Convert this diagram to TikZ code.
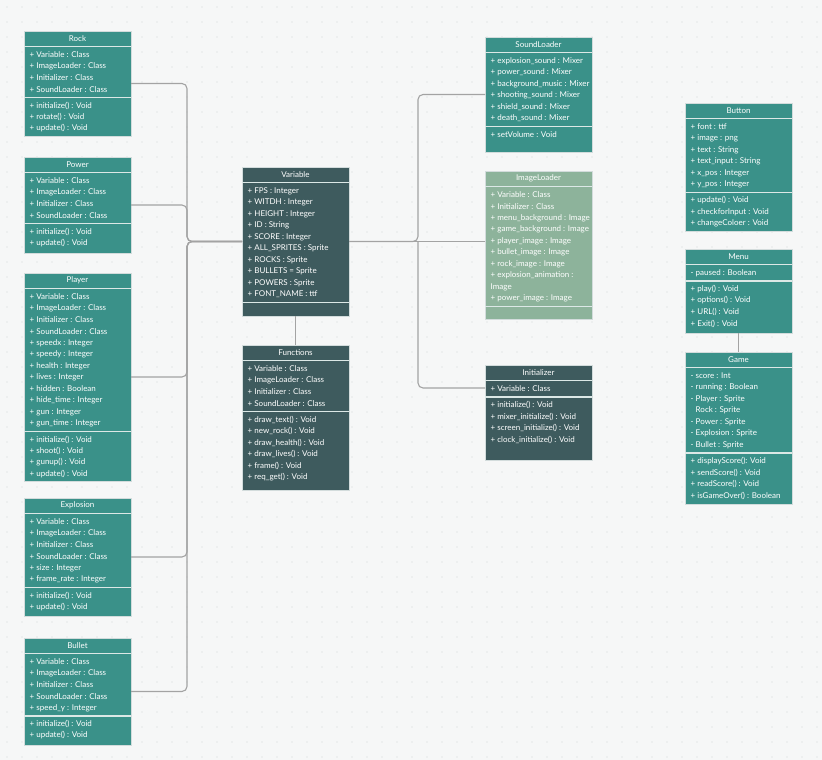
\documentclass[tikz,border=0pt]{standalone}
\usepackage{fontspec}
\setmainfont{Lato}
\usetikzlibrary{calc}

\definecolor{umlteal}{HTML}{3A9189}
\definecolor{umlslate}{HTML}{3E5B5E}
\definecolor{umlsage}{HTML}{8DB39B}
\definecolor{boxedge}{HTML}{D3DCDC}
\definecolor{sepcol}{HTML}{DCE8E6}
\definecolor{conncol}{HTML}{A3A3A3}
\definecolor{paper}{HTML}{F6F7F7}
\definecolor{dotcol}{HTML}{D3D7D7}

\tikzset{
  classbox/.style={draw=boxedge, line width=0.6pt, minimum width=107pt,
    anchor=north west, inner sep=0pt, outer sep=0pt},
  tealbox/.style={classbox, fill=umlteal},
  slatebox/.style={classbox, fill=umlslate},
  sagebox/.style={classbox, fill=umlsage},
  rowtext/.style={anchor=west, inner sep=0pt, text=white,
    font=\fontsize{8}{9}\selectfont},
  titletext/.style={anchor=center, inner sep=0pt, text=white,
    font=\fontsize{8}{9}\selectfont},
  sepline/.style={draw=sepcol, line width=1.1pt},
  conn/.style={draw=conncol, line width=1.1pt, rounded corners=5pt},
}

% #1 name, #2 style, #3 left x, #4 top y, #5 bottom y, #6 title,
% #7 number of attributes, #8 attributes, #9 operations
\newcommand\umlclass[9]{%
  \node[#2, minimum height=#5pt-#4pt] (#1) at (#3,#4) {};
  \node[titletext] (#1-t) at ($(#1.north)+(0,7.5)$) {#6};
  \draw[sepline] ($(#1.north west)+(0,15.5)$) -- ($(#1.north east)+(0,15.5)$);
  \foreach \lbl [count=\i] in {#8}
    \node[rowtext] (#1-a\i) at ({#3+5.5},{#4+24+(\i-1)*11.5}) {\lbl};
  \draw[sepline] ($(#1.north west)+(0,{20.5+#7*11.5})$) --
                 ($(#1.north east)+(0,{20.5+#7*11.5})$);
  \foreach \lbl [count=\i] in {#9}
    \node[rowtext] (#1-m\i) at ({#3+5.5},{#4+28.5+#7*11.5+(\i-1)*11.5}) {\lbl};
}

\begin{document}
\begin{tikzpicture}[x=1pt, y=-1pt]
  \useasboundingbox (0,0) rectangle (822,760);
  \fill[paper] (0,0) rectangle (822,760);
  \foreach \gx in {7,22,...,822}
    \foreach \gy in {7,22,...,760}
      \fill[dotcol] (\gx,\gy) circle (0.7);

  % ---- left column ----
  \umlclass{rock}{tealbox}{24}{31}{136}{Rock}{4}
    {+ Variable : Class, + ImageLoader : Class, + Initializer : Class, + SoundLoader : Class}
    {+ initialize() : Void, + rotate() : Void, + update() : Void}
  \umlclass{power}{tealbox}{24}{157}{253}{Power}{4}
    {+ Variable : Class, + ImageLoader : Class, + Initializer : Class, + SoundLoader : Class}
    {+ initialize() : Void, + update() : Void}
  \umlclass{player}{tealbox}{24}{273}{481}{Player}{12}
    {+ Variable : Class, + ImageLoader : Class, + Initializer : Class, + SoundLoader : Class,
     + speedx : Integer, + speedy : Integer, + health : Integer, + lives : Integer,
     + hidden : Boolean, + hide\_time : Integer, + gun : Integer, + gun\_time : Integer}
    {+ initialize() : Void, + shoot() : Void, + gunup() : Void, + update() : Void}
  \umlclass{explosion}{tealbox}{24}{498}{616}{Explosion}{6}
    {+ Variable : Class, + ImageLoader : Class, + Initializer : Class, + SoundLoader : Class,
     + size : Integer, + frame\_rate : Integer}
    {+ initialize() : Void, + update() : Void}
  \umlclass{bullet}{tealbox}{24}{638}{745}{Bullet}{5}
    {+ Variable : Class, + ImageLoader : Class, + Initializer : Class, + SoundLoader : Class,
     + speed\_y : Integer}
    {+ initialize() : Void, + update() : Void}

  % ---- middle column ----
  \umlclass{variable}{slatebox}{242}{167}{316}{Variable}{10}
    {+ FPS : Integer, + WITDH : Integer, + HEIGHT : Integer, + ID : String,
     + SCORE : Integer, + ALL\_SPRITES : Sprite, + ROCKS : Sprite,
     + BULLETS = Sprite, + POWERS : Sprite, + FONT\_NAME : ttf}
    {}
  \umlclass{functions}{slatebox}{242}{345}{490}{Functions}{4}
    {+ Variable : Class, + ImageLoader : Class, + Initializer : Class, + SoundLoader : Class}
    {+ draw\_text() : Void, + new\_rock() : Void, + draw\_health() : Void,
     + draw\_lives() : Void, + frame() : Void, + req\_get() : Void}

  % ---- loaders ----
  \umlclass{sound}{tealbox}{485}{37}{152}{SoundLoader}{6}
    {+ explosion\_sound : Mixer, + power\_sound : Mixer, + background\_music : Mixer,
     + shooting\_sound : Mixer, + shield\_sound : Mixer, + death\_sound : Mixer}
    {+ setVolume : Void}
  \umlclass{imgl}{sagebox}{485}{171}{319}{ImageLoader}{10}
    {+ Variable : Class, + Initializer : Class, + menu\_background : Image,
     + game\_background : Image, + player\_image : Image, + bullet\_image : Image,
     + rock\_image : Image, + explosion\_animation :, Image, + power\_image : Image}
    {}
  \umlclass{init}{slatebox}{485}{365}{460}{Initializer}{1}
    {+ Variable : Class}
    {+ initialize() : Void, + mixer\_initialize() : Void, + screen\_initialize() : Void,
     + clock\_initialize() : Void}

  % ---- user interface ----
  \umlclass{button}{tealbox}{685}{103}{231}{Button}{6}
    {+ font : ttf, + image : png, + text : String, + text\_input : String,
     + x\_pos : Integer, + y\_pos : Integer}
    {+ update() : Void, + checkforInput : Void, + changeColoer : Void}
  \umlclass{menu}{tealbox}{685}{249}{333}{Menu}{1}
    {- paused : Boolean}
    {+ play() : Void, + options() : Void, + URL() : Void, + Exit() : Void}
  \umlclass{game}{tealbox}{685}{352}{504}{Game}{7}
    {- score : Int, - running : Boolean, - Player : Sprite, \phantom{-} Rock : Sprite,
     - Power : Sprite, - Explosion : Sprite, - Bullet : Sprite}
    {+ displayScore(): Void, + sendScore() : Void, + readScore() : Void,
     + isGameOver() : Boolean}

  % ---- connectors ----
  \coordinate (lt) at (187,241.5);
  \coordinate (rt) at (418,241.5);
  \coordinate (initin) at (485,388);
  \foreach \src in {rock,power,player,explosion,bullet}
    \draw[conn] (\src.east) -| (lt) -- (variable.west);
  \draw[conn] (variable.east) -- (rt) |- (sound.west);
  \draw[conn] (variable.east) -- (variable.east -| imgl.west);
  \draw[conn] (rt) |- (initin);
  \draw[conn] (variable.south) -- (functions.north);
  \draw[conn] (menu.south) -- (game.north);
\end{tikzpicture}
\end{document}
